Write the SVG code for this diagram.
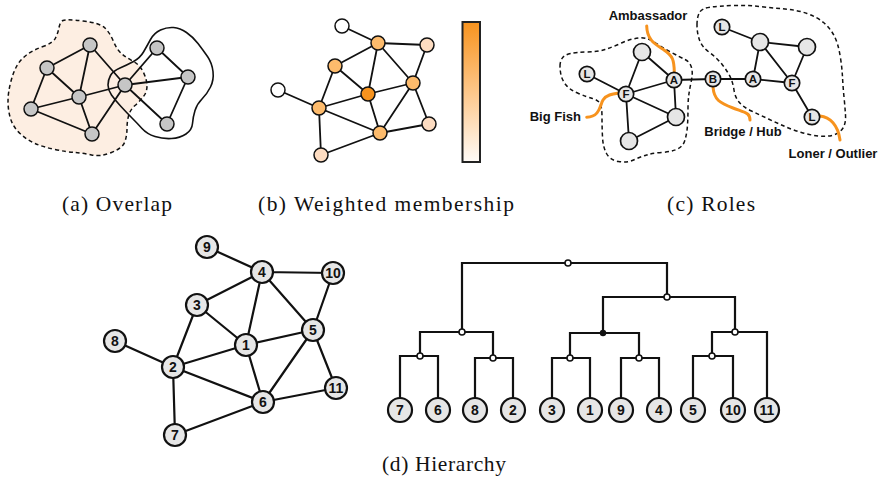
<svg xmlns="http://www.w3.org/2000/svg" width="880" height="481" viewBox="0 0 880 481">
<defs>
<linearGradient id="cbar" x1="0" y1="0" x2="0" y2="1">
<stop offset="0" stop-color="#f7931e"/>
<stop offset="0.5" stop-color="#fdc78a"/>
<stop offset="1" stop-color="#fffbf7"/>
</linearGradient>
</defs>
<style>
.e{stroke:#111;stroke-width:1.8;fill:none;stroke-linecap:round}
.ed{stroke:#111;stroke-width:2.2;fill:none;stroke-linecap:round}
.dt{stroke:#111;stroke-width:2.2;fill:none;stroke-linejoin:miter}
.na{fill:#c6c6c6;stroke:#111;stroke-width:1.5}
.nb{stroke:#111;stroke-width:1.5}
.nc{fill:#e6e6e6;stroke:#111;stroke-width:1.7}
.nd{fill:#e6e6e6;stroke:#111;stroke-width:2.2}
.jd{fill:#fff;stroke:#111;stroke-width:1.6}
.blob{stroke:#111;stroke-width:1.5;stroke-dasharray:4 3}
.or{stroke:#f7931e;stroke-width:3;fill:none;stroke-linecap:round}
.lc{font-family:"Liberation Sans",Arial,sans-serif;font-weight:bold;font-size:11.5px;text-anchor:middle;fill:#111}
.ld{font-family:"Liberation Sans",Arial,sans-serif;font-weight:bold;font-size:14px;text-anchor:middle;fill:#111}
.rl{font-family:"Liberation Sans",Arial,sans-serif;font-weight:bold;font-size:13px;fill:#111}
.cap{font-family:"Liberation Serif","Times New Roman",serif;font-size:21.5px;text-anchor:middle;fill:#111}
</style>

<!-- Panel (a) -->
<g id="a-communities">
<path class="blob" fill="#fdeee2" d="M59,27.5 Q60,22 63,20.5 Q66,19 83,21 Q100,23 105,28 Q110,33 113.5,41.5 Q117,50 122,54 Q127,58 133.5,61.5 Q140,65 143.5,72.5 Q147,80 147,86 Q147,92 143.5,96.5 Q140,101 135,105.5 Q130,110 128.5,116 Q127,122 127,128.5 Q127,135 125,141.5 Q123,148 111.5,152.5 Q100,157 91.5,155 Q83,153 75,152.5 Q67,152 55,149.5 Q43,147 35,143.5 Q27,140 20,133.5 Q13,127 10.5,118.5 Q8,110 8,101.5 Q8,93 10.5,83 Q13,73 16.5,66.5 Q20,60 26.5,55 Q33,50 43,46.5 Q53,43 55.5,38 Q58,33 59,27.5 Z"/>
<path fill="none" stroke="#111" stroke-width="1.6" d="M108,85 Q108,80 110.5,75.5 Q113,71 120,68 Q127,65 133.5,61.5 Q140,58 143.5,52 Q147,46 150.5,39.5 Q154,33 160.5,30 Q167,27 173.5,27.5 Q180,28 186.5,32.5 Q193,37 198,43.5 Q203,50 207.5,56.5 Q212,63 213,71.5 Q214,80 210.5,87 Q207,94 202,99 Q197,104 195,110.5 Q193,117 192.5,123.5 Q192,130 186,134 Q180,138 171.5,138.5 Q163,139 155,136.5 Q147,134 142,128.5 Q137,123 132,118 Q127,113 121,106.5 Q115,100 111.5,95 Q108,90 108,85 Z"/>
</g>
<g id="a-edges">
<path class="e" d="M90,45L47,68 M90,45L79,97 M90,45L125,85 M47,68L79,97 M47,68L31,109 M79,97L31,109 M79,97L92,134 M79,97L125,85 M31,109L92,134 M92,134L125,85 M125,85L157,48 M125,85L188,77 M125,85L167,124 M157,48L188,77 M188,77L167,124"/>
</g>
<g id="a-n1"><circle class="na" cx="90" cy="45" r="7"/></g>
<g id="a-n2"><circle class="na" cx="47" cy="68" r="7"/></g>
<g id="a-n3"><circle class="na" cx="79" cy="97" r="7"/></g>
<g id="a-n4"><circle class="na" cx="31" cy="109" r="7"/></g>
<g id="a-n5"><circle class="na" cx="92" cy="134" r="7"/></g>
<g id="a-n6"><circle class="na" cx="125" cy="85" r="7"/></g>
<g id="a-n7"><circle class="na" cx="157" cy="48" r="7"/></g>
<g id="a-n8"><circle class="na" cx="188" cy="77" r="7"/></g>
<g id="a-n9"><circle class="na" cx="167" cy="124" r="7"/></g>

<!-- Panel (b) -->
<g id="b-edges">
<path class="e" d="M342,26L378,43 M378,43L427,45 M378,43L335,66 M378,43L368,94 M378,43L413,83 M427,45L413,83 M335,66L368,94 M335,66L319,108 M368,94L413,83 M368,94L319,108 M368,94L380,133 M413,83L380,133 M413,83L429,124 M278,90L319,108 M319,108L380,133 M319,108L321,155 M380,133L429,124 M380,133L321,155"/>
</g>
<g id="b-n1"><circle class="nb" fill="#ffffff" cx="342" cy="26" r="7"/></g>
<g id="b-n2"><circle class="nb" fill="#fdbb6c" cx="378" cy="43" r="7"/></g>
<g id="b-n3"><circle class="nb" fill="#fddcc1" cx="427" cy="45" r="7"/></g>
<g id="b-n4"><circle class="nb" fill="#fdbb6c" cx="335" cy="66" r="7"/></g>
<g id="b-n5"><circle class="nb" fill="#f7931e" cx="368" cy="94" r="7"/></g>
<g id="b-n6"><circle class="nb" fill="#fdbb6c" cx="413" cy="83" r="7"/></g>
<g id="b-n7"><circle class="nb" fill="#ffffff" cx="278" cy="90" r="7"/></g>
<g id="b-n8"><circle class="nb" fill="#fdbb6c" cx="319" cy="108" r="7"/></g>
<g id="b-n9"><circle class="nb" fill="#fdbb6c" cx="380" cy="133" r="7"/></g>
<g id="b-n10"><circle class="nb" fill="#fddcc1" cx="429" cy="124" r="7"/></g>
<g id="b-n11"><circle class="nb" fill="#fddcc1" cx="321" cy="155" r="7"/></g>
<g id="b-colorbar"><rect x="462.5" y="22" width="17.5" height="140" fill="url(#cbar)" stroke="#222" stroke-width="2"/></g>

<!-- Panel (c) -->
<g id="c-communities">
<path class="blob" fill="none" d="M560,66 Q560,62 562,58.5 Q564,55 570.5,53.5 Q577,52 587,52 Q597,52 605,49.5 Q613,47 621.5,43 Q630,39 638.5,38 Q647,37 655,42.5 Q663,48 671.5,52.5 Q680,57 685,59.5 Q690,62 691.5,67.5 Q693,73 691.5,80 Q690,87 689,93.5 Q688,100 688,108.5 Q688,117 687.5,125 Q687,133 685,140 Q683,147 676.5,149.5 Q670,152 661.5,152.5 Q653,153 646.5,155 Q640,157 633.5,160 Q627,163 618.5,161.5 Q610,160 606.5,153.5 Q603,147 602.5,137 Q602,127 602,117 Q602,107 600,103.5 Q598,100 592.5,98.5 Q587,97 578.5,93.5 Q570,90 566,85 Q562,80 561,75 Q560,70 560,66 Z"/>
<path class="blob" fill="none" d="M697,25 Q697,17 699.5,12.5 Q702,8 711,7 Q720,6 733.5,5.5 Q747,5 760,6.5 Q773,8 785,9 Q797,10 807,13.5 Q817,17 823.5,22.5 Q830,28 834,35.5 Q838,43 840,55 Q842,67 842.5,77 Q843,87 844,97 Q845,107 845.5,115 Q846,123 843,128 Q840,133 833.5,135 Q827,137 818.5,136 Q810,135 801.5,132.5 Q793,130 785,126.5 Q777,123 768.5,119 Q760,115 751.5,111 Q743,107 739,102 Q735,97 734,90 Q733,83 730.5,77.5 Q728,72 722.5,65 Q717,58 709.5,52.5 Q702,47 699.5,40 Q697,33 697,25 Z"/>
</g>
<g id="c-edges">
<path class="e" d="M587,74L626,94 M626,94L642,52 M626,94L674,80 M626,94L676,117 M626,94L629,141 M642,52L674,80 M674,80L676,117 M676,117L629,141 M674,80L713,79 M713,79L753,79 M753,79L792,83 M792,83L760,42 M792,83L807,47 M760,42L807,47 M760,42L722,27 M760,42L753,79 M792,83L812,117"/>
</g>
<g id="c-role-pointers">
<path class="or" d="M646.7,26 C647,40 655,44 664,50 S674,60 674.3,72"/>
<path class="or" d="M586.7,117.3 C600,117 600,105 603,100 S612,94 619,93"/>
<path class="or" d="M713,87 C714,100 720,103 733,108 S750,113 750,120"/>
<path class="or" d="M820,116 C830,117 838,125 840,140"/>
</g>
<g id="c-L1"><circle class="nc" cx="587" cy="74" r="7.7"/><text class="lc" x="587" y="78">L</text></g>
<g id="c-F1"><circle class="nc" cx="626" cy="94" r="7.7"/><text class="lc" x="626" y="98">F</text></g>
<g id="c-A1"><circle class="nc" cx="674" cy="80" r="7.7"/><text class="lc" x="674" y="84">A</text></g>
<g id="c-n1"><circle class="nc" cx="642" cy="52" r="8.5"/></g>
<g id="c-n2"><circle class="nc" cx="676" cy="117" r="8.5"/></g>
<g id="c-n3"><circle class="nc" cx="629" cy="141" r="8.5"/></g>
<g id="c-B"><circle class="nc" cx="713" cy="79" r="7.7"/><text class="lc" x="713" y="83">B</text></g>
<g id="c-A2"><circle class="nc" cx="753" cy="79" r="7.7"/><text class="lc" x="753" y="83">A</text></g>
<g id="c-F2"><circle class="nc" cx="792" cy="83" r="7.7"/><text class="lc" x="792" y="87">F</text></g>
<g id="c-n4"><circle class="nc" cx="760" cy="42" r="8.5"/></g>
<g id="c-n5"><circle class="nc" cx="807" cy="47" r="8.5"/></g>
<g id="c-L2"><circle class="nc" cx="722" cy="27" r="7.7"/><text class="lc" x="722" y="31">L</text></g>
<g id="c-L3"><circle class="nc" cx="812" cy="117" r="7.7"/><text class="lc" x="812" y="121">L</text></g>
<g id="c-labels">
<text class="rl" x="648" y="20" text-anchor="middle">Ambassador</text>
<text class="rl" x="581" y="121" text-anchor="end">Big Fish</text>
<text class="rl" x="743" y="136" text-anchor="middle">Bridge / Hub</text>
<text class="rl" x="833" y="158" text-anchor="middle">Loner / Outlier</text>
</g>

<!-- Panel (d) graph -->
<g id="d-edges">
<path class="ed" d="M207,247L262,272 M262,272L333,273 M262,272L197,305 M262,272L246,345 M262,272L313,330 M333,273L313,330 M197,305L173,367 M197,305L246,345 M115,341L173,367 M173,367L246,345 M246,345L313,330 M246,345L263,402 M173,367L263,402 M173,367L175,435 M313,330L263,402 M313,330L336,388 M263,402L336,388 M175,435L263,402"/>
</g>
<g id="d-n9"><circle class="nd" cx="207" cy="247" r="11"/><text class="ld" x="207" y="252">9</text></g>
<g id="d-n4"><circle class="nd" cx="262" cy="272" r="11"/><text class="ld" x="262" y="277">4</text></g>
<g id="d-n10"><circle class="nd" cx="333" cy="273" r="11"/><text class="ld" x="333" y="278">10</text></g>
<g id="d-n3"><circle class="nd" cx="197" cy="305" r="11"/><text class="ld" x="197" y="310">3</text></g>
<g id="d-n8"><circle class="nd" cx="115" cy="341" r="11"/><text class="ld" x="115" y="346">8</text></g>
<g id="d-n5"><circle class="nd" cx="313" cy="330" r="11"/><text class="ld" x="313" y="335">5</text></g>
<g id="d-n1"><circle class="nd" cx="246" cy="345" r="11"/><text class="ld" x="246" y="350">1</text></g>
<g id="d-n2"><circle class="nd" cx="173" cy="367" r="11"/><text class="ld" x="173" y="372">2</text></g>
<g id="d-n11"><circle class="nd" cx="336" cy="388" r="11"/><text class="ld" x="336" y="393">11</text></g>
<g id="d-n6"><circle class="nd" cx="263" cy="402" r="11"/><text class="ld" x="263" y="407">6</text></g>
<g id="d-n7"><circle class="nd" cx="175" cy="435" r="11"/><text class="ld" x="175" y="440">7</text></g>

<!-- Panel (d) dendrogram -->
<g id="dendro-links">
<path class="dt" d="M400,398V356H438V398 M475,398V358H513V398 M420,356V332H493V358 M552,398V358H590V398 M621,398V358H659V398 M570,358V333H639V358 M693,398V356H733V398 M712,356V332H767V398 M603,333V297H735V332 M462,332V263H667V297"/>
</g>
<g id="dendro-junctions">
<circle class="jd" cx="420" cy="356" r="3"/>
<circle class="jd" cx="493" cy="358" r="3"/>
<circle class="jd" cx="462" cy="332" r="3"/>
<circle class="jd" cx="570" cy="358" r="3"/>
<circle class="jd" cx="639" cy="358" r="3"/>
<circle cx="603" cy="333" r="3.2" fill="#111"/>
<circle class="jd" cx="712" cy="356" r="3"/>
<circle class="jd" cx="735" cy="332" r="3"/>
<circle class="jd" cx="667" cy="297" r="3"/>
<circle class="jd" cx="568" cy="263" r="3"/>
</g>
<g id="leaf-7"><circle class="nd" cx="400" cy="410" r="12"/><text class="ld" x="400" y="415">7</text></g>
<g id="leaf-6"><circle class="nd" cx="438" cy="410" r="12"/><text class="ld" x="438" y="415">6</text></g>
<g id="leaf-8"><circle class="nd" cx="475" cy="410" r="12"/><text class="ld" x="475" y="415">8</text></g>
<g id="leaf-2"><circle class="nd" cx="513" cy="410" r="12"/><text class="ld" x="513" y="415">2</text></g>
<g id="leaf-3"><circle class="nd" cx="552" cy="410" r="12"/><text class="ld" x="552" y="415">3</text></g>
<g id="leaf-1"><circle class="nd" cx="590" cy="410" r="12"/><text class="ld" x="590" y="415">1</text></g>
<g id="leaf-9"><circle class="nd" cx="621" cy="410" r="12"/><text class="ld" x="621" y="415">9</text></g>
<g id="leaf-4"><circle class="nd" cx="659" cy="410" r="12"/><text class="ld" x="659" y="415">4</text></g>
<g id="leaf-5"><circle class="nd" cx="693" cy="410" r="12"/><text class="ld" x="693" y="415">5</text></g>
<g id="leaf-10"><circle class="nd" cx="733" cy="410" r="12"/><text class="ld" x="733" y="415">10</text></g>
<g id="leaf-11"><circle class="nd" cx="767" cy="410" r="12"/><text class="ld" x="767" y="415">11</text></g>

<!-- Captions -->
<g id="captions">
<text class="cap" x="117" y="211" textLength="110">(a) Overlap</text>
<text class="cap" x="386" y="211" textLength="256">(b) Weighted membership</text>
<text class="cap" x="711" y="211" textLength="88">(c) Roles</text>
<text class="cap" x="444" y="471" textLength="124">(d) Hierarchy</text>
</g>
</svg>
